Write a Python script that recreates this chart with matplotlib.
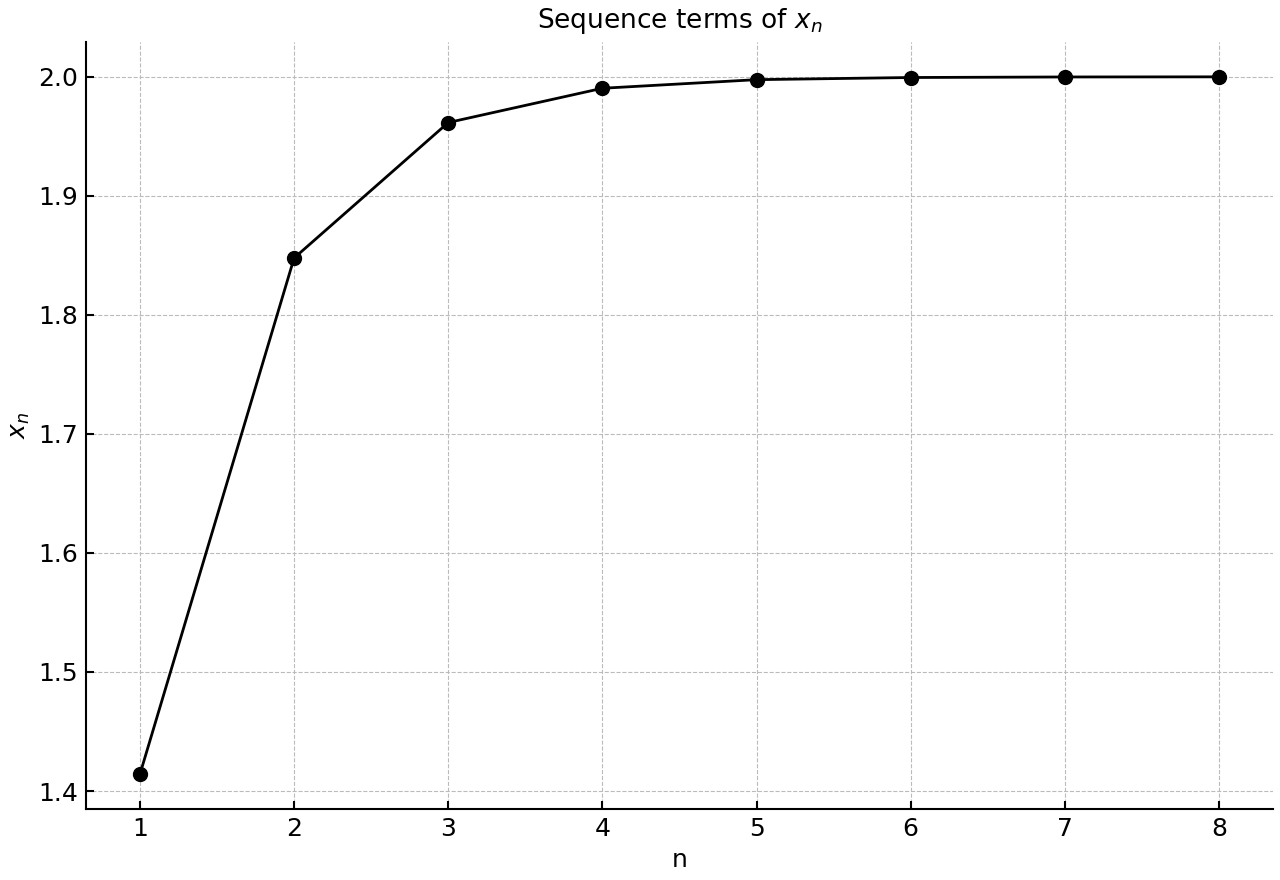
import matplotlib
matplotlib.use("Agg")
import matplotlib.pyplot as plt

n_values = [1, 2, 3, 4, 5, 6, 7, 8]
x_values = [1.41421, 1.84776, 1.96157, 1.99037, 1.99759, 1.99940, 1.99985, 1.99996]

fig, ax = plt.subplots(figsize=(12.8, 8.8), dpi=100)
ax.plot(n_values, x_values, color="black", linewidth=2, marker="o", markersize=10)
ax.set_title("Sequence terms of $x_n$", fontsize=19, pad=10)
ax.set_xlabel("n", fontsize=18, labelpad=5)
ax.set_ylabel("$x_n$", fontsize=18, labelpad=4)
ax.set_xticks(n_values)
ax.tick_params(direction="in", labelsize=18, length=6, width=1.5, pad=6)
ax.grid(True, linestyle="--", color="#bbbbbb", linewidth=0.8)
ax.spines["top"].set_visible(False)
ax.spines["right"].set_visible(False)
ax.spines["left"].set_linewidth(1.5)
ax.spines["bottom"].set_linewidth(1.5)
fig.subplots_adjust(left=0.0672, right=0.9945, bottom=0.0807, top=0.9523)
fig.savefig("out.png", dpi=100)
